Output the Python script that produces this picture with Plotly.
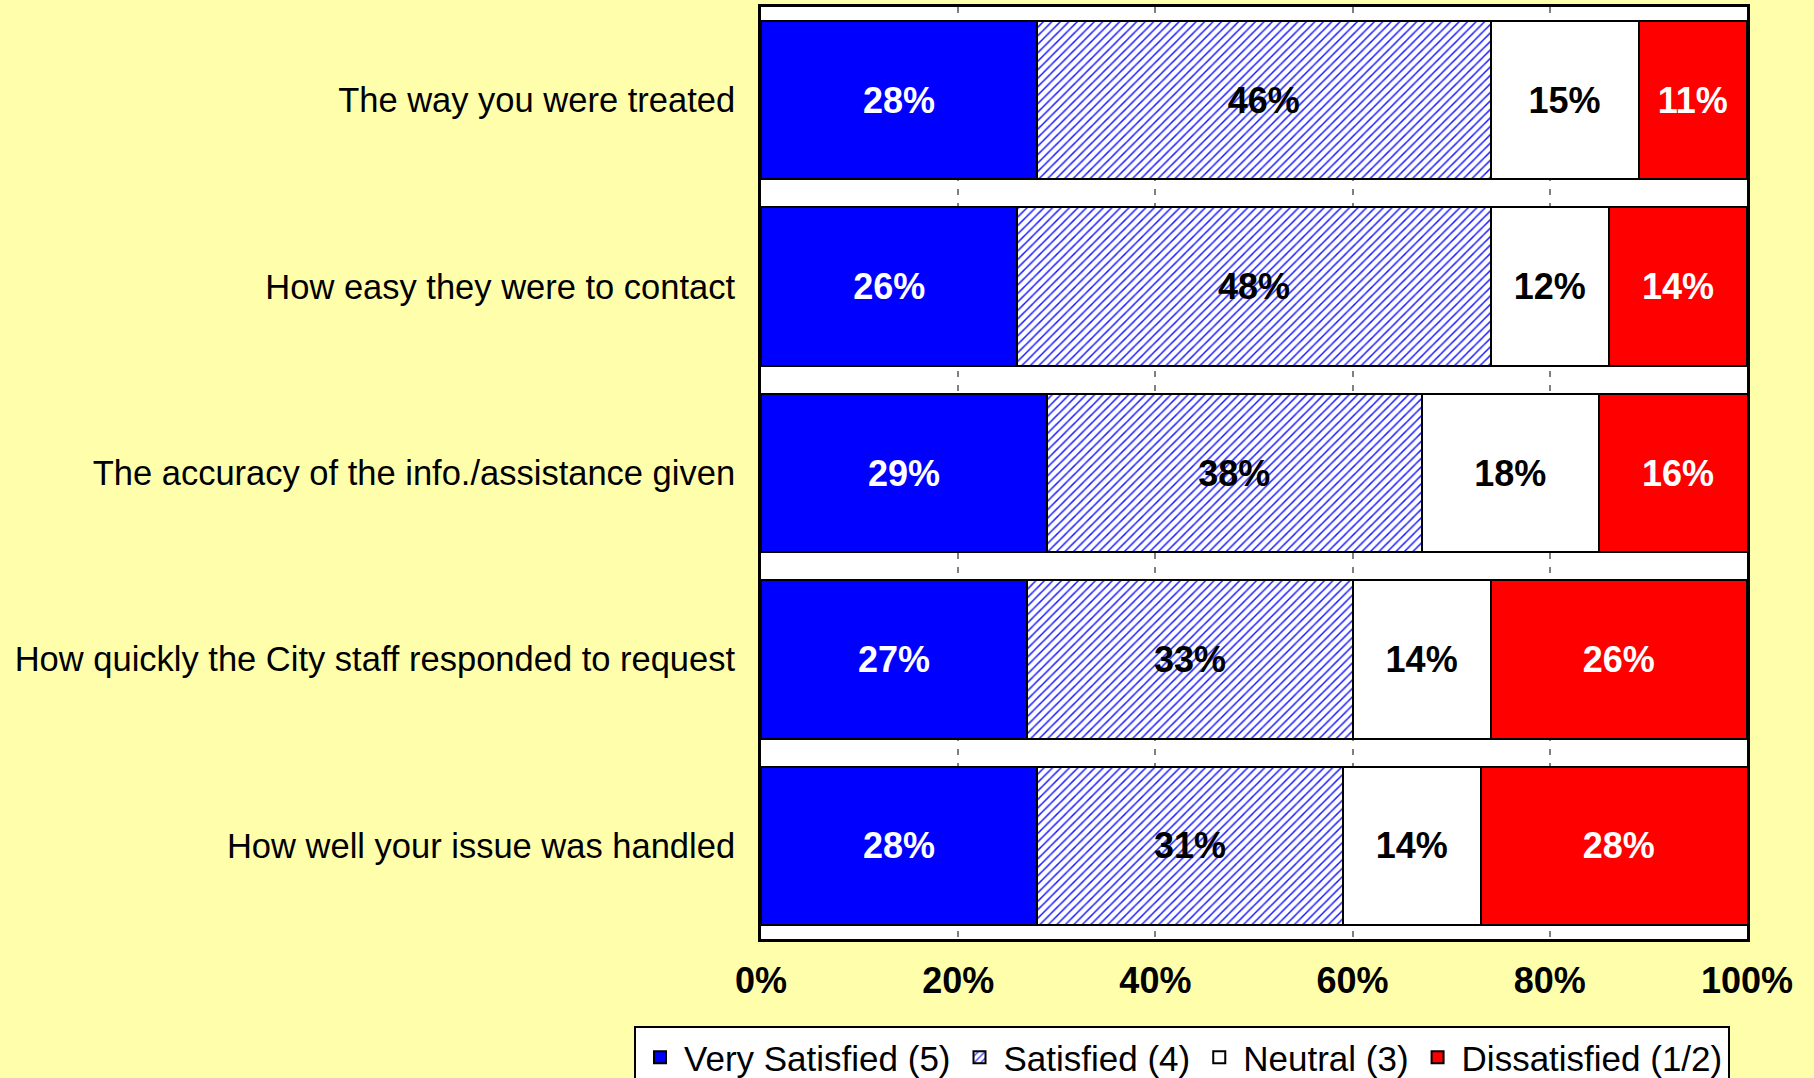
import plotly.graph_objects as go

# Survey items (top to bottom) and the share of responses in each rating band
items = [
    "The way you were treated",
    "How easy they were to contact",
    "The accuracy of the info./assistance given",
    "How quickly the City staff responded to request",
    "How well your issue was handled",
]
very_satisfied = [28, 26, 29, 27, 28]
satisfied = [46, 48, 38, 33, 31]
neutral = [15, 12, 18, 14, 14]
dissatisfied = [11, 14, 16, 26, 28]

tick_values = [0, 20, 40, 60, 80, 100]
tick_labels = ["0%", "20%", "40%", "60%", "80%", "100%"]

FONT = "Arial, 'Liberation Sans', sans-serif"
BG = "#FFFFAB"

series = [
    ("Very Satisfied (5)", very_satisfied, dict(color="#0000FF"), "white"),
    ("Satisfied (4)", satisfied,
     dict(color="white",
          pattern=dict(shape="/", fgcolor="#2020FF", bgcolor="white",
                       size=6, solidity=0.25, fillmode="replace")),
     "black"),
    ("Neutral (3)", neutral, dict(color="white"), "black"),
    ("Dissatisfied (1/2)", dissatisfied, dict(color="#FF0000"), "white"),
]

fig = go.Figure()
for name, vals, marker, txtcolor in series:
    marker = dict(marker)
    marker["line"] = dict(color="black", width=2)
    fig.add_trace(go.Bar(
        y=items,
        x=vals,
        name=name,
        orientation="h",
        marker=marker,
        text=[f"{v}%" for v in vals],
        textposition="inside",
        insidetextanchor="middle",
        textangle=0,
        constraintext="none",
        textfont=dict(family=FONT, size=36, color=txtcolor, weight="bold"),
        hoverinfo="skip",
    ))

fig.update_layout(
    barmode="stack",
    bargap=0.15,
    width=1814,
    height=1078,
    paper_bgcolor=BG,
    plot_bgcolor="white",
    margin=dict(l=761, r=67, t=7, b=139, pad=0, autoexpand=False),
    font=dict(family=FONT, color="black"),
    showlegend=True,
    legend=dict(
        orientation="h",
        x=-0.1288,
        xanchor="left",
        y=-0.0933,
        yanchor="top",
        bgcolor="white",
        bordercolor="black",
        borderwidth=2,
        font=dict(family=FONT, size=35, color="black"),
        traceorder="normal",
        itemwidth=38,
    ),
)

fig.update_xaxes(
    range=[0, 100],
    tickvals=tick_values,
    ticktext=tick_labels,
    tickfont=dict(family=FONT, size=36, color="black", weight="bold"),
    showgrid=True,
    gridcolor="#808080",
    gridwidth=1.5,
    griddash="6px,8px",
    showline=True,
    linecolor="black",
    linewidth=3,
    mirror=True,
    zeroline=False,
    ticks="",
    ticklabelstandoff=8,
    fixedrange=True,
)

fig.update_yaxes(
    autorange="reversed",
    tickfont=dict(family=FONT, size=34.5, color="black"),
    showgrid=False,
    showline=True,
    linecolor="black",
    linewidth=3,
    mirror=True,
    ticks="",
    ticklabelstandoff=16,
    fixedrange=True,
)

fig.write_html("out.html", config=dict(displayModeBar=False))
